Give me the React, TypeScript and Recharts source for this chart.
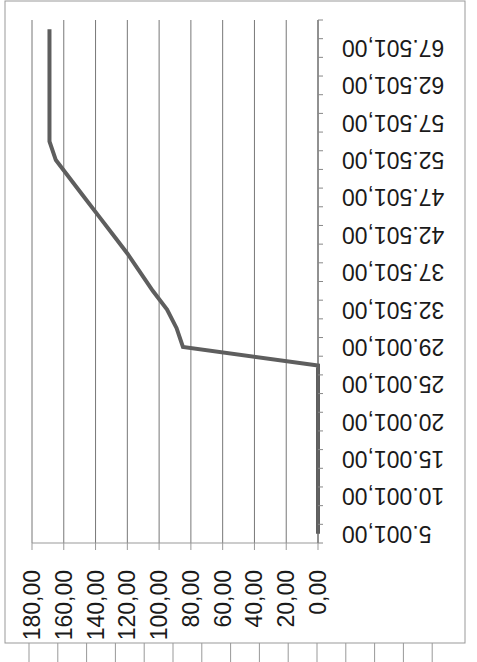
import React from "react";
import { LineChart, Line, XAxis, YAxis, CartesianGrid } from "recharts";

// categories run bottom -> top on the right axis
const categories = [
  "5.001,00", "7.501,00", "10.001,00", "12.501,00", "15.001,00", "17.501,00",
  "20.001,00", "22.501,00", "25.001,00", "27.001,00", "29.001,00", "30.751,00",
  "32.501,00", "35.001,00", "37.501,00", "40.001,00", "42.501,00", "45.001,00",
  "47.501,00", "50.001,00", "52.501,00", "55.001,00", "57.501,00", "60.001,00",
  "62.501,00", "65.001,00", "67.501,00", "70.001,00",
];

const values = [
  0, 0, 0, 0, 0, 0,
  0, 0, 0, 0, 85, 89,
  95, 104, 112, 120, 129, 138,
  147, 156, 165, 169, 169, 169,
  169, 169, 169, 169,
];

const valueTicks = [0, 20, 40, 60, 80, 100, 120, 140, 160, 180];

const data = categories.map((cat, i) => ({ cat, value: values[i] }));

const fmtValue = (v: number) => v.toFixed(2).replace(".", ",");

const FONT = "'Liberation Sans', Arial, sans-serif";

const CategoryTick = (props: any) => {
  const { x, y, index, payload } = props;
  const half = payload && payload.offset ? payload.offset : 9;
  const ax = x + 24;
  return (
    <g>
      <line x1={x} y1={y + half} x2={x + 5} y2={y + half} stroke="#888" />
      {index === categories.length - 1 ? (
        <line x1={x} y1={y - half} x2={x + 5} y2={y - half} stroke="#888" />
      ) : null}
      {index % 2 === 0 ? (
        <text
          x={ax}
          y={y}
          transform={`rotate(180, ${ax}, ${y})`}
          textAnchor="end"
          dominantBaseline="central"
          fontFamily={FONT}
          fontSize={23}
          fill="#1a1a1a"
        >
          {payload.value}
        </text>
      ) : null}
    </g>
  );
};

const ValueTick = (props: any) => {
  const { x, y, payload } = props;
  const ay = y + 20;
  return (
    <text
      x={x}
      y={ay}
      transform={`rotate(-90, ${x}, ${ay})`}
      textAnchor="end"
      dominantBaseline="central"
      fontFamily={FONT}
      fontSize={23}
      fill="#1a1a1a"
    >
      {fmtValue(payload.value)}
    </text>
  );
};

const App = () => {
  return (
    <div style={{ position: "absolute", left: 0, top: 0, width: 477, height: 662, background: "#fff" }}>
      <svg width={477} height={662} style={{ position: "absolute", left: 0, top: 0 }}>
        <rect x={5} y={1} width={460} height={642} fill="none" stroke="#999" />
        {Array.from({ length: 15 }).map((_, i) => (
          <line key={i} x1={29 + i * 28.8} y1={643} x2={29 + i * 28.8} y2={662} stroke="#999" />
        ))}
      </svg>
      <div style={{ position: "absolute", left: 0, top: 0 }}>
        <LineChart
          width={477}
          height={662}
          data={data}
          layout="vertical"
          margin={{ top: 20, left: 32, right: 0, bottom: 0 }}
        >
          <CartesianGrid horizontal={false} stroke="#777" />
          <XAxis
            type="number"
            domain={[0, 180]}
            ticks={valueTicks}
            reversed
            height={119}
            tickSize={7}
            tickMargin={0}
            axisLine={{ stroke: "#999" }}
            tickLine={{ stroke: "#999" }}
            tick={<ValueTick />}
            interval={0}
          />
          <YAxis
            type="category"
            dataKey="cat"
            scale="band"
            orientation="right"
            reversed
            width={159}
            tickSize={0}
            tickMargin={0}
            tickLine={false}
            axisLine={{ stroke: "#666" }}
            tick={<CategoryTick />}
            interval={0}
          />
          <Line
            type="linear"
            dataKey="value"
            stroke="#5e5e5e"
            strokeWidth={4}
            dot={false}
            isAnimationActive={false}
          />
        </LineChart>
      </div>
    </div>
  );
};

export default App;
